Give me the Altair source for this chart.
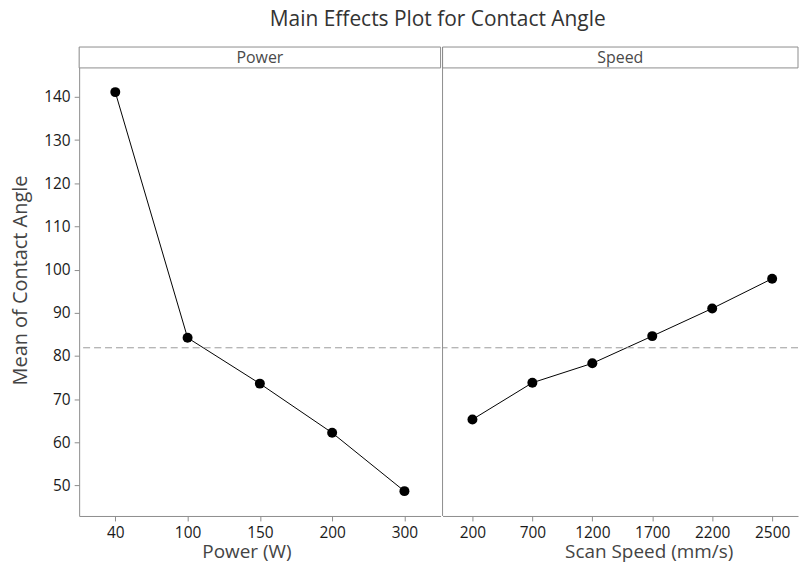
import altair as alt
import pandas as pd

# ---- data ----
power_levels = ["40", "100", "150", "200", "300"]
power_means = [141.1, 84.2, 73.6, 62.2, 48.7]
speed_levels = ["200", "700", "1200", "1700", "2200", "2500"]
speed_means = [65.3, 73.8, 78.3, 84.6, 91.0, 97.9]
grand_mean = 81.9
y_ticks = [50, 60, 70, 80, 90, 100, 110, 120, 130, 140]

FONT = "Open Sans"
GRAY = "#8c8c8c"
PLOT_H = 450
HEAD_H = 21
TOTAL_H = PLOT_H + HEAD_H
Y_MIN, Y_MAX = 42.95, 146.7
Y_TOP = Y_MAX + (Y_MAX - Y_MIN) * HEAD_H / PLOT_H


def panel(levels, means, width, label, xtitle, pad, align, title_x, show_y):
    df = pd.DataFrame({"level": levels, "mean": means})
    one = pd.DataFrame({"m": [grand_mean], "strip": [label]})
    x = alt.X(
        "level:O",
        sort=levels,
        scale=alt.Scale(type="point", padding=pad, align=align),
        axis=alt.Axis(
            title=xtitle, labelAngle=0, labelFontSize=15.5, labelColor="#1a1a1a", labelFont=FONT,
            titleFont=FONT, titleFontSize=19, titleFontWeight="normal", titleColor="#444",
            tickColor=GRAY, domainColor=GRAY, tickSize=5, labelPadding=5,
            titleX=title_x, titleY=36, titleBaseline="middle", titleAlign="center",
        ),
    )
    if show_y:
        yaxis = alt.Axis(
            values=y_ticks, title="Mean of Contact Angle", labelFontSize=15.5, labelColor="#1a1a1a",
            labelFont=FONT, titleFont=FONT, titleFontSize=20, titleFontWeight="normal",
            titleColor="#444", tickColor=GRAY, domainColor=GRAY, tickSize=5, labelPadding=4,
            grid=False, titleX=-58.5, titleY=234, titleBaseline="middle", titleAlign="center",
        )
    else:
        yaxis = None
    yscale = alt.Scale(domain=[Y_MIN, Y_TOP], nice=False, zero=False)
    y = alt.Y("mean:Q", scale=yscale, axis=yaxis)
    ym = alt.Y("m:Q", scale=yscale, axis=yaxis)

    base = alt.Chart(df)
    strip = alt.Chart(one)
    line = base.mark_line(color="black", strokeWidth=1).encode(x=x, y=y)
    pts = base.mark_circle(color="black", size=100, opacity=1).encode(x=x, y=y)
    ref = strip.mark_rule(color="#9a9a9a", strokeDash=[7, 4], strokeWidth=1).encode(y=ym)
    box = strip.mark_rect(fill="white", stroke=GRAY, strokeWidth=1).encode(
        x=alt.value(0), x2=alt.value(width), y=alt.value(0), y2=alt.value(HEAD_H)
    )
    txt = strip.mark_text(
        font=FONT, fontSize=16, fontWeight="normal", color="#4a4a4a", baseline="middle"
    ).encode(x=alt.value(width / 2), y=alt.value(HEAD_H / 2 + 0.5), text="strip:N")
    layers = [line, ref, pts, box, txt]
    if not show_y:
        div = strip.mark_rule(color=GRAY, strokeWidth=1).encode(
            x=alt.value(0), y=alt.value(0), y2=alt.value(TOTAL_H)
        )
        layers.append(div)
    return alt.layer(*layers).properties(width=width, height=TOTAL_H)


left = panel(power_levels, power_means, 363, "Power", "Power (W)", 0.5, 0.5, 168, True)
right = panel(speed_levels, speed_means, 357, "Speed", "Scan Speed (mm/s)", 0.465, 0.536, 207, False)

chart = (
    alt.hconcat(left, right, spacing=0)
    .properties(
        title=alt.Title(
            "Main Effects Plot for Contact Angle", font=FONT, fontSize=21, fontWeight="normal",
            color="#333", anchor="start", dx=260, offset=17,
        ),
        padding={"left": 10.5, "top": 7, "right": 0, "bottom": 0},
        background="white",
    )
    .configure_view(stroke=None)
)

chart.save("out.html", embed_options={"renderer": "svg", "actions": False})
